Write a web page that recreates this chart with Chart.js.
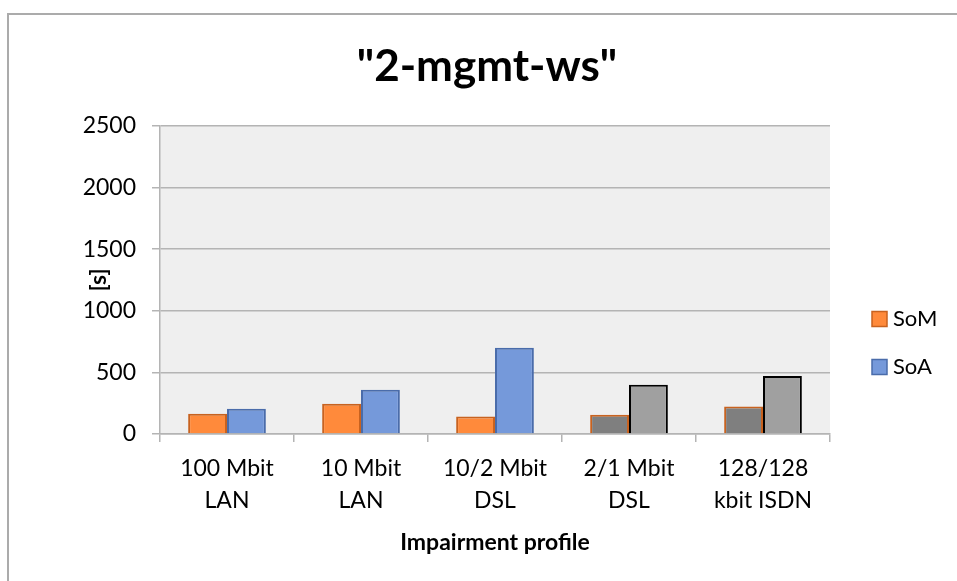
<!DOCTYPE html>
<html>
<head>
<meta charset="utf-8">
<script src="https://cdn.jsdelivr.net/npm/chart.js@4/dist/chart.umd.min.js"></script>
<style>
  html, body { margin: 0; padding: 0; background: #fff; }
  #wrap { position: relative; width: 957px; height: 581px; }
</style>
</head>
<body>
<div id="wrap"><canvas id="myChart" width="957" height="581"></canvas></div>
<script>
  // data
  const labels = [
    ['100 Mbit', 'LAN'],
    ['10 Mbit', 'LAN'],
    ['10/2 Mbit', 'DSL'],
    ['2/1 Mbit', 'DSL'],
    ['128/128', 'kbit ISDN'],
  ];
  const somValues = [164, 245, 142, 156, 224];
  const soaValues = [205, 359, 700, 400, 470];
  const yTicks = [0, 500, 1000, 1500, 2000, 2500];

  // styles
  const FONT = 'Lato, "Open Sans", sans-serif';
  const somFill = ['#FF8A3B', '#FF8A3B', '#FF8A3B', '#7F7F7F', '#7F7F7F'];
  const somBorder = ['#C8621F', '#C8621F', '#C8621F', '#C8621F', '#C8621F'];
  const soaFill = ['#7599DA', '#7599DA', '#7599DA', '#A0A0A0', '#A0A0A0'];
  const soaBorder = ['#4A6CAA', '#4A6CAA', '#4A6CAA', '#000000', '#000000'];

  // pick per-bar colour, first one for dataset level
  function pick(arr) {
    return function(ctx) {
      return ctx.dataIndex === undefined ? arr[0] : arr[ctx.dataIndex];
    };
  }

  // plot area background + outer frame
  const backdrop = {
    id: 'backdrop',
    beforeDraw(chart) {
      const c = chart.ctx, a = chart.chartArea;
      c.save();
      c.fillStyle = '#fff';
      c.fillRect(0, 0, chart.width, chart.height);
      c.fillStyle = '#EFEFEF';
      c.fillRect(a.left, a.top, a.right - a.left, a.bottom - a.top);
      c.strokeStyle = '#ABABAB';
      c.lineWidth = 2;
      c.beginPath();
      c.moveTo(8, chart.height);
      c.lineTo(8, 14);
      c.lineTo(chart.width, 14);
      c.stroke();
      c.restore();
    }
  };

  // legend on the right, drawn by hand so it sits where the original has it
  const sideLegend = {
    id: 'sideLegend',
    afterDraw(chart) {
      const c = chart.ctx;
      const rows = [
        { y: 319, fill: somFill[0], border: somBorder[0] },
        { y: 367, fill: soaFill[0], border: soaBorder[0] },
      ];
      c.save();
      chart.data.datasets.forEach(function(ds, i) {
        const r = rows[i];
        c.fillStyle = r.fill;
        c.strokeStyle = r.border;
        c.lineWidth = 1.5;
        c.fillRect(872, r.y - 7.5, 15, 15);
        c.strokeRect(872, r.y - 7.5, 15, 15);
        c.fillStyle = '#000';
        c.font = '22px ' + FONT;
        c.textBaseline = 'middle';
        c.textAlign = 'left';
        c.fillText(ds.label, 893, r.y);
      });
      c.restore();
    }
  };

  const data = {
    labels: labels,
    datasets: [{
      label: 'SoM',
      data: somValues,
      backgroundColor: pick(somFill),
      borderColor: pick(somBorder),
      borderWidth: 2,
    }, {
      label: 'SoA',
      data: soaValues,
      backgroundColor: pick(soaFill),
      borderColor: pick(soaBorder),
      borderWidth: 2,
    }]
  };

  const config = {
    type: 'bar',
    data: data,
    plugins: [backdrop, sideLegend],
    options: {
      responsive: false,
      animation: false,
      layout: { padding: { left: 17, right: 0, top: 0, bottom: 0 } },
      datasets: {
        bar: { categoryPercentage: 0.58, barPercentage: 1.0 }
      },
      plugins: {
        legend: { display: false },
        tooltip: { enabled: false },
        title: {
          display: true,
          text: '"2-mgmt-ws"',
          color: '#000',
          font: { family: FONT, size: 44, weight: 'bold', lineHeight: 1.2 },
          padding: { top: 40, bottom: 33 },
        },
      },
      scales: {
        x: {
          grid: {
            display: true,
            drawOnChartArea: false,
            drawTicks: true,
            tickLength: 8,
            color: '#B4B4B4',
            lineWidth: 1.5,
          },
          border: { display: true, color: '#B4B4B4', width: 1.5 },
          ticks: {
            color: '#000',
            padding: 11,
            font: { family: FONT, size: 23, lineHeight: 32 / 23 },
            maxRotation: 0,
            autoSkip: false,
          },
          title: {
            display: true,
            text: 'Impairment profile',
            color: '#000',
            font: { family: FONT, size: 23, weight: 'bold', lineHeight: 1.2 },
            padding: { top: 0, bottom: 25 },
          },
          afterFit(scale) { scale.height = 147; },
        },
        y: {
          min: 0,
          max: 2500,
          afterBuildTicks(scale) {
            scale.ticks = yTicks.map(v => ({ value: v }));
          },
          grid: {
            color: '#B4B4B4',
            lineWidth: 1.5,
            drawTicks: true,
            tickLength: 8,
          },
          border: { display: true, color: '#B4B4B4', width: 1.5 },
          ticks: {
            color: '#000',
            padding: 16,
            font: { family: FONT, size: 23 },
            callback: v => String(v),
          },
          title: {
            display: true,
            text: '[s]',
            color: '#000',
            font: { family: FONT, size: 23, weight: 'bold', lineHeight: 1.2 },
            padding: { top: 68, bottom: 0 },
          },
          afterFit(scale) { scale.width = 143; },
        },
        // empty right-hand axis: only reserves room for the legend
        yRight: {
          position: 'right',
          min: 0,
          max: 2500,
          grid: { display: false },
          border: { display: false },
          ticks: { display: false },
          afterFit(scale) { scale.width = 127; },
        },
      },
    },
  };

  const myChart = new Chart(
    document.getElementById('myChart'),
    config
  );
</script>
</body>
</html>
